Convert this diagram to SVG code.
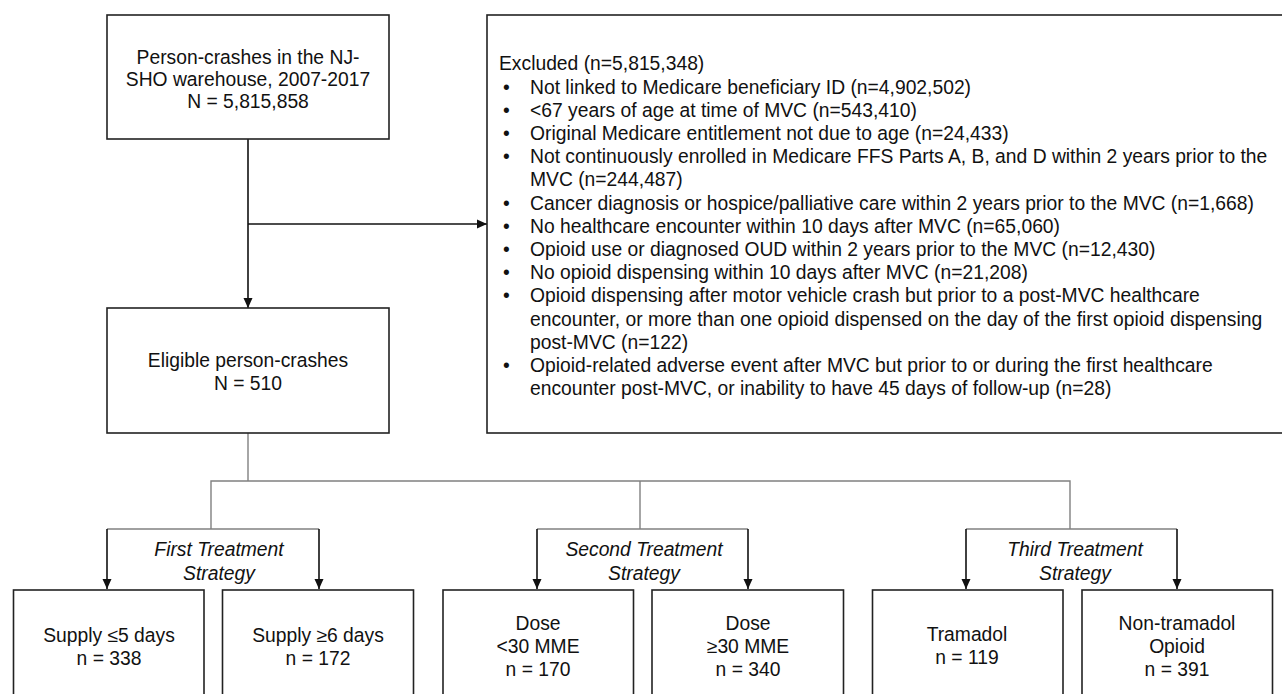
<svg xmlns="http://www.w3.org/2000/svg" width="1282" height="694" viewBox="0 0 1282 694">
<style>
.box{fill:#fff;stroke:#222;stroke-width:1.6}
.t{font-family:"Liberation Sans",Arial,sans-serif;font-size:19.3px;fill:#111}
.c{text-anchor:middle}
.i{font-style:italic}
.blk{stroke:#111;stroke-width:1.6;fill:none}
.gry{stroke:#808080;stroke-width:1.4;fill:none}
</style>
<defs>
<marker id="ah" viewBox="0 0 10 10" refX="10" refY="5" markerWidth="10" markerHeight="10" markerUnits="userSpaceOnUse" orient="auto">
<path d="M0,0.5 L10,5 L0,9.5 Z" fill="#111"/>
</marker>
</defs>
<rect width="1282" height="694" fill="#fff"/>
<g id="connectors">
<line class="blk" x1="248" y1="139" x2="248" y2="308" marker-end="url(#ah)"/>
<line class="blk" x1="248" y1="224" x2="487" y2="224" marker-end="url(#ah)"/>
<polyline class="gry" points="248,433 248,481"/>
<polyline class="gry" points="211,529 211,481 1070,481 1070,529"/>
<line class="gry" x1="640" y1="481" x2="640" y2="529"/>
<line class="gry" x1="107" y1="529" x2="319" y2="529"/>
<line class="gry" x1="537" y1="529" x2="748" y2="529"/>
<line class="gry" x1="966" y1="529" x2="1177" y2="529"/>
<line class="blk" x1="107" y1="529" x2="107" y2="589" marker-end="url(#ah)"/>
<line class="blk" x1="319" y1="529" x2="319" y2="589" marker-end="url(#ah)"/>
<line class="blk" x1="537" y1="529" x2="537" y2="589" marker-end="url(#ah)"/>
<line class="blk" x1="748" y1="529" x2="748" y2="589" marker-end="url(#ah)"/>
<line class="blk" x1="966" y1="529" x2="966" y2="589" marker-end="url(#ah)"/>
<line class="blk" x1="1177" y1="529" x2="1177" y2="589" marker-end="url(#ah)"/>
</g>
<g id="labels">
<text class="t c i" x="219" y="556">First Treatment</text>
<text class="t c i" x="219" y="580">Strategy</text>
<text class="t c i" x="644" y="556">Second Treatment</text>
<text class="t c i" x="644" y="580">Strategy</text>
<text class="t c i" x="1075" y="556">Third Treatment</text>
<text class="t c i" x="1075" y="580">Strategy</text>
</g>
<g id="start">
<rect class="box" x="107" y="15" width="282" height="124"/>
<text class="t c" x="248" y="64">Person-crashes in the NJ-</text>
<text class="t c" x="248" y="86">SHO warehouse, 2007-2017</text>
<text class="t c" x="248" y="108">N = 5,815,858</text>
</g>
<g id="excluded">
<rect class="box" x="487" y="15" width="810" height="418"/>
<text class="t" x="499" y="70.3">Excluded (n=5,815,348)</text>
<g class="t">
<text x="503" y="93.5">•</text><text x="530" y="93.5">Not linked to Medicare beneficiary ID (n=4,902,502)</text>
<text x="503" y="116.7">•</text><text x="530" y="116.7">&lt;67 years of age at time of MVC (n=543,410)</text>
<text x="503" y="139.9">•</text><text x="530" y="139.9">Original Medicare entitlement not due to age (n=24,433)</text>
<text x="503" y="163.1">•</text><text x="530" y="163.1">Not continuously enrolled in Medicare FFS Parts A, B, and D within 2 years prior to the</text>
<text x="530" y="186.3">MVC (n=244,487)</text>
<text x="503" y="209.5">•</text><text x="530" y="209.5">Cancer diagnosis or hospice/palliative care within 2 years prior to the MVC (n=1,668)</text>
<text x="503" y="232.7">•</text><text x="530" y="232.7">No healthcare encounter within 10 days after MVC (n=65,060)</text>
<text x="503" y="255.9">•</text><text x="530" y="255.9">Opioid use or diagnosed OUD within 2 years prior to the MVC (n=12,430)</text>
<text x="503" y="279.1">•</text><text x="530" y="279.1">No opioid dispensing within 10 days after MVC (n=21,208)</text>
<text x="503" y="302.3">•</text><text x="530" y="302.3">Opioid dispensing after motor vehicle crash but prior to a post-MVC healthcare</text>
<text x="530" y="325.5">encounter, or more than one opioid dispensed on the day of the first opioid dispensing</text>
<text x="530" y="348.7">post-MVC (n=122)</text>
<text x="503" y="371.9">•</text><text x="530" y="371.9">Opioid-related adverse event after MVC but prior to or during the first healthcare</text>
<text x="530" y="395.1">encounter post-MVC, or inability to have 45 days of follow-up (n=28)</text>
</g>
</g>
<g id="eligible">
<rect class="box" x="107" y="308" width="282" height="125"/>
<text class="t c" x="248" y="367">Eligible person-crashes</text>
<text class="t c" x="248" y="390">N = 510</text>
</g>
<g id="supply5">
<rect class="box" x="13.5" y="590" width="190.5" height="115"/>
<text class="t c" x="109" y="642">Supply ≤5 days</text>
<text class="t c" x="109" y="665">n = 338</text>
</g>
<g id="supply6">
<rect class="box" x="222.5" y="590" width="191" height="115"/>
<text class="t c" x="318" y="642">Supply ≥6 days</text>
<text class="t c" x="318" y="665">n = 172</text>
</g>
<g id="doseLow">
<rect class="box" x="443" y="590" width="190.5" height="115"/>
<text class="t c" x="538" y="630">Dose</text>
<text class="t c" x="538" y="653">&lt;30 MME</text>
<text class="t c" x="538" y="676">n = 170</text>
</g>
<g id="doseHigh">
<rect class="box" x="652" y="590" width="191.5" height="115"/>
<text class="t c" x="748" y="630">Dose</text>
<text class="t c" x="748" y="653">≥30 MME</text>
<text class="t c" x="748" y="676">n = 340</text>
</g>
<g id="tramadol">
<rect class="box" x="872.5" y="590" width="190.5" height="115"/>
<text class="t c" x="967" y="641">Tramadol</text>
<text class="t c" x="967" y="664">n = 119</text>
</g>
<g id="nontramadol">
<rect class="box" x="1082" y="590" width="190.5" height="115"/>
<text class="t c" x="1177" y="630">Non-tramadol</text>
<text class="t c" x="1177" y="653">Opioid</text>
<text class="t c" x="1177" y="676">n = 391</text>
</g>
</svg>
